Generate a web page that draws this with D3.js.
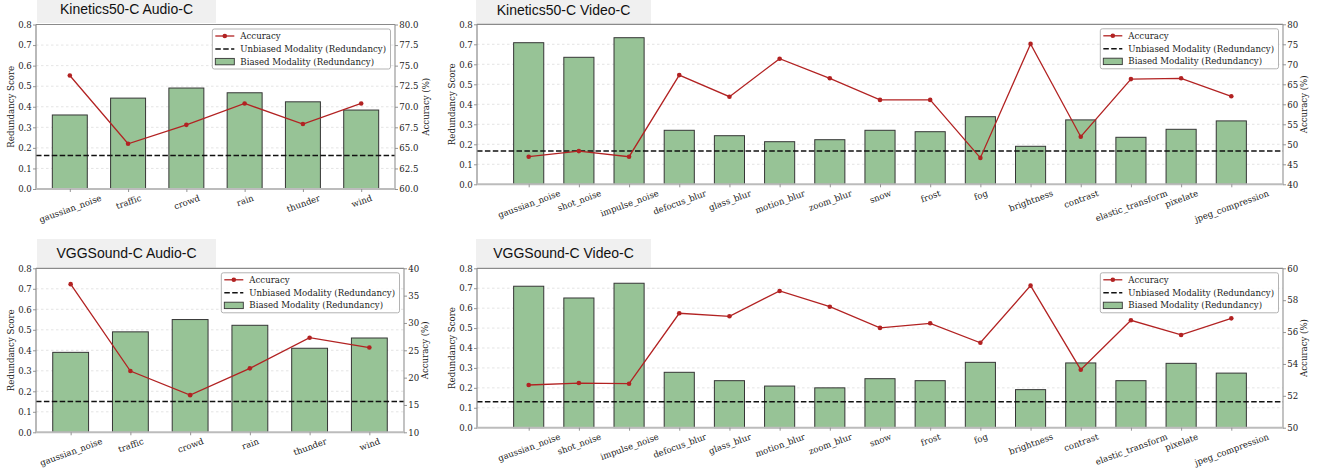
<!DOCTYPE html>
<html>
<head>
<meta charset="utf-8">
<script src="https://cdn.jsdelivr.net/npm/d3@7"></script>
<style>
  body { margin: 0; background: #fff; }
  svg { display: block; }
</style>
</head>
<body>
<svg id="chart" width="1323" height="469"></svg>
<script>
// Corruption types
const audioCorruptions = ["gaussian_noise", "traffic", "crowd", "rain", "thunder", "wind"];
const videoCorruptions = ["gaussian_noise", "shot_noise", "impulse_noise", "defocus_blur", "glass_blur",
  "motion_blur", "zoom_blur", "snow", "frost", "fog", "brightness", "contrast",
  "elastic_transform", "pixelate", "jpeg_compression"];

// Kinetics50-C, audio corruptions
const k50AudioRedundancy = [0.36, 0.442, 0.491, 0.468, 0.424, 0.384];
const k50AudioAccuracy = [73.8, 65.5, 67.8, 70.4, 67.9, 70.4];
const k50AudioUnbiased = 0.163;

// Kinetics50-C, video corruptions
const k50VideoRedundancy = [0.708, 0.635, 0.733, 0.27, 0.243, 0.213, 0.223, 0.27, 0.263, 0.338, 0.19, 0.322, 0.235, 0.275, 0.317];
const k50VideoAccuracy = [46.9, 48.3, 46.9, 67.3, 61.9, 71.4, 66.5, 61.1, 61.1, 46.6, 75.1, 51.9, 66.3, 66.5, 62.0];
const k50VideoUnbiased = 0.167;

// VGGSound-C, audio corruptions
const vggAudioRedundancy = [0.39, 0.49, 0.55, 0.522, 0.41, 0.46];
const vggAudioAccuracy = [37.1, 21.2, 16.8, 21.7, 27.3, 25.5];
const vggAudioUnbiased = 0.15;

// VGGSound-C, video corruptions
const vggVideoRedundancy = [0.71, 0.651, 0.725, 0.278, 0.236, 0.209, 0.2, 0.246, 0.236, 0.328, 0.191, 0.325, 0.236, 0.323, 0.274];
const vggVideoAccuracy = [52.68, 52.8, 52.76, 57.18, 56.99, 58.58, 57.59, 56.26, 56.55, 55.33, 58.91, 53.64, 56.74, 55.82, 56.86];
const vggVideoUnbiased = 0.13;

// Axis ticks
const redundancyTicks = [0, 0.1, 0.2, 0.3, 0.4, 0.5, 0.6, 0.7, 0.8];
const k50AudioAccTicks = [60, 62.5, 65, 67.5, 70, 72.5, 75, 77.5, 80];
const k50VideoAccTicks = [40, 45, 50, 55, 60, 65, 70, 75, 80];
const vggAudioAccTicks = [10, 15, 20, 25, 30, 35, 40];
const vggVideoAccTicks = [50, 52, 54, 56, 58, 60];

const legendLabels = ["Accuracy", "Unbiased Modality (Redundancy)", "Biased Modality (Redundancy)"];

const SERIF = "'DejaVu Serif', serif";
const SANS = "'Liberation Sans', Arial, sans-serif";
const FS = 8.6;
const BAR_FILL = "#97c396";
const BAR_EDGE = "#363636";
const LINE = "#b22222";
const SPINE = "#8a8a8a";

const panels = [
  { title: "Kinetics50-C Audio-C", cats: audioCorruptions, red: k50AudioRedundancy, acc: k50AudioAccuracy,
    unb: k50AudioUnbiased, accTicks: k50AudioAccTicks, accFmt: d3.format(".1f"),
    box: { x0: 36, x1: 395, y0: 24.5, y1: 189 }, titleBox: { x: 37, y: -5.7, w: 179, h: 28.7 }, accLabelOff: 31 },
  { title: "Kinetics50-C Video-C", cats: videoCorruptions, red: k50VideoRedundancy, acc: k50VideoAccuracy,
    unb: k50VideoUnbiased, accTicks: k50VideoAccTicks, accFmt: d3.format("d"),
    box: { x0: 477, x1: 1283, y0: 24.3, y1: 184.3 }, titleBox: { x: 476, y: -4.7, w: 175, h: 28.7 }, accLabelOff: 21.7 },
  { title: "VGGSound-C Audio-C", cats: audioCorruptions, red: vggAudioRedundancy, acc: vggAudioAccuracy,
    unb: vggAudioUnbiased, accTicks: vggAudioAccTicks, accFmt: d3.format("d"),
    box: { x0: 36, x1: 404, y0: 268.3, y1: 432.3 }, titleBox: { x: 37, y: 239, w: 179, h: 28.7 }, accLabelOff: 21.5 },
  { title: "VGGSound-C Video-C", cats: videoCorruptions, red: vggVideoRedundancy, acc: vggVideoAccuracy,
    unb: vggVideoUnbiased, accTicks: vggVideoAccTicks, accFmt: d3.format("d"),
    box: { x0: 477, x1: 1283, y0: 268.3, y1: 427.7 }, titleBox: { x: 476, y: 239, w: 175, h: 28.7 }, accLabelOff: 21 }
];

const svg = d3.select("#chart");

function styleAxis(g) {
  g.selectAll(".domain").remove();
  g.selectAll(".tick line").attr("stroke", SPINE).attr("stroke-width", 0.9);
  g.selectAll(".tick text").attr("fill", "#222").style("font-family", SERIF).style("font-size", FS + "px");
}

function drawPanel(p) {
  const { x0, x1, y0, y1 } = p.box;
  const n = p.cats.length;
  const margin = 0.05 * (n - 1 + 0.6);
  const x = d3.scaleLinear().domain([-0.3 - margin, n - 1 + 0.3 + margin]).range([x0, x1]);
  const y = d3.scaleLinear().domain([0, 0.8]).range([y1, y0]);
  const yAcc = d3.scaleLinear().domain(d3.extent(p.accTicks)).range([y1, y0]);
  const g = svg.append("g");

  // title tab
  g.append("rect").attr("x", p.titleBox.x).attr("y", p.titleBox.y)
    .attr("width", p.titleBox.w).attr("height", p.titleBox.h).attr("fill", "#f0f0f0");
  g.append("text").attr("x", p.titleBox.x + p.titleBox.w / 2)
    .attr("y", p.titleBox.y + p.titleBox.h / 2 + 5)
    .attr("text-anchor", "middle").style("font-family", SANS).style("font-size", "14px")
    .attr("fill", "#111").text(p.title);

  // horizontal grid
  g.append("g").selectAll("line").data(redundancyTicks.slice(1, -1)).join("line")
    .attr("x1", x0).attr("x2", x1).attr("y1", d => y(d)).attr("y2", d => y(d))
    .attr("stroke", "#d8d8d8").attr("stroke-width", 0.7).attr("stroke-dasharray", "2.5,2.5");

  // bars
  const bw = x(0.3) - x(-0.3);
  g.append("g").selectAll("rect").data(p.red).join("rect")
    .attr("x", (d, i) => x(i) - bw / 2).attr("width", bw)
    .attr("y", d => y(d)).attr("height", d => y1 - y(d))
    .attr("fill", BAR_FILL).attr("stroke", BAR_EDGE).attr("stroke-width", 1);

  // unbiased modality reference line
  g.append("line").attr("x1", x0).attr("x2", x1).attr("y1", y(p.unb)).attr("y2", y(p.unb))
    .attr("stroke", "#111").attr("stroke-width", 1.5).attr("stroke-dasharray", "5.5,2.4");

  // accuracy line
  const line = d3.line().x((d, i) => x(i)).y(d => yAcc(d));
  g.append("path").datum(p.acc).attr("d", line).attr("fill", "none")
    .attr("stroke", LINE).attr("stroke-width", 1.3);
  g.append("g").selectAll("circle").data(p.acc).join("circle")
    .attr("cx", (d, i) => x(i)).attr("cy", d => yAcc(d)).attr("r", 2.3).attr("fill", LINE);

  // spines
  g.append("line").attr("x1", x0).attr("x2", x1).attr("y1", y0).attr("y2", y0).attr("stroke", SPINE).attr("stroke-width", 1.2);
  g.append("line").attr("x1", x0).attr("x2", x0).attr("y1", y0).attr("y2", y1).attr("stroke", SPINE).attr("stroke-width", 1.2);
  g.append("line").attr("x1", x1).attr("x2", x1).attr("y1", y0).attr("y2", y1).attr("stroke", "#9a9a9a").attr("stroke-width", 1.2);
  g.append("line").attr("x1", x0 - 0.6).attr("x2", x1 + 0.6).attr("y1", y1).attr("y2", y1).attr("stroke", "#bcbcbc").attr("stroke-width", 2);

  // left axis
  const axL = g.append("g").attr("transform", `translate(${x0},0)`)
    .call(d3.axisLeft(y).tickValues(redundancyTicks).tickFormat(d3.format(".1f")).tickSizeInner(3).tickSizeOuter(0).tickPadding(1.2));
  styleAxis(axL);

  // right axis
  const axR = g.append("g").attr("transform", `translate(${x1},0)`)
    .call(d3.axisRight(yAcc).tickValues(p.accTicks).tickFormat(p.accFmt).tickSizeInner(3).tickSizeOuter(0).tickPadding(1.3));
  styleAxis(axR);

  // bottom axis with rotated labels
  const axB = g.append("g").attr("transform", `translate(0,${y1})`)
    .call(d3.axisBottom(x).tickValues(d3.range(n)).tickFormat(i => p.cats[i]).tickSizeInner(3).tickSizeOuter(0));
  styleAxis(axB);
  const ang = 20 * Math.PI / 180;
  axB.selectAll(".tick text").each(function () {
    const L = this.getComputedTextLength();
    const h = FS * 1.16;
    const half = (L * Math.sin(ang) + h * Math.cos(ang)) / 2;
    d3.select(this).attr("y", 0).attr("dy", "0.32em").attr("text-anchor", "middle")
      .attr("transform", `translate(0,${4 + half}) rotate(-20)`);
  });

  // axis titles
  const yc = (y0 + y1) / 2;
  g.append("text").attr("transform", `translate(${x0 - 25},${yc}) rotate(-90)`)
    .attr("text-anchor", "middle").attr("dy", "0.32em").style("font-family", SERIF).style("font-size", FS + "px")
    .attr("fill", "#222").text("Redundancy Score");
  g.append("text").attr("transform", `translate(${x1 + p.accLabelOff},${yc}) rotate(-90)`)
    .attr("text-anchor", "middle").attr("dy", "0.32em").style("font-family", SERIF).style("font-size", FS + "px")
    .attr("fill", "#222").text("Accuracy (%)");

  // legend
  const lg = g.append("g");
  const frame = lg.append("rect").attr("rx", 2).attr("ry", 2)
    .attr("fill", "#fff").attr("fill-opacity", 0.85).attr("stroke", "#aaa").attr("stroke-width", 0.9);
  const rowY = [7, 20, 32.6];
  const texts = lg.selectAll("text").data(legendLabels).join("text")
    .attr("x", 28).attr("y", (d, i) => rowY[i]).attr("dy", "0.34em")
    .style("font-family", SERIF).style("font-size", FS + "px").attr("fill", "#222").text(d => d);
  let tw = 0;
  texts.each(function () { tw = Math.max(tw, this.getComputedTextLength()); });
  const lw = 28 + tw + 4.5, lh = 40;
  frame.attr("width", lw).attr("height", lh);
  lg.append("line").attr("x1", 3).attr("x2", 22).attr("y1", rowY[0]).attr("y2", rowY[0])
    .attr("stroke", LINE).attr("stroke-width", 1.3);
  lg.append("circle").attr("cx", 12.5).attr("cy", rowY[0]).attr("r", 2.3).attr("fill", LINE);
  lg.append("line").attr("x1", 3).attr("x2", 22).attr("y1", rowY[1]).attr("y2", rowY[1])
    .attr("stroke", "#111").attr("stroke-width", 1.5).attr("stroke-dasharray", "5.5,2.4");
  lg.append("rect").attr("x", 3).attr("y", rowY[2] - 3.2).attr("width", 19).attr("height", 6.4)
    .attr("fill", BAR_FILL).attr("stroke", BAR_EDGE).attr("stroke-width", 0.9);
  lg.attr("transform", `translate(${x1 - 4.5 - lw},${y0 + 4.5})`);
}

panels.forEach(drawPanel);
</script>
</body>
</html>
